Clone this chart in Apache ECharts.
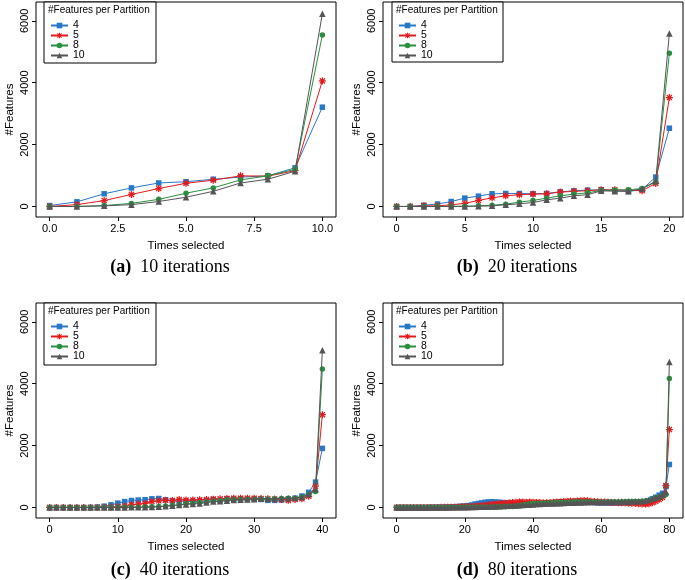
<!DOCTYPE html>
<html>
<head>
<meta charset="utf-8">
<script src="https://cdn.jsdelivr.net/npm/echarts@6/dist/echarts.min.js"></script>
<style>html,body{margin:0;padding:0;background:#fff}#c{width:685px;height:580px}</style>
</head>
<body>
<div id="c"></div>
<script>
// ---- data ----
const seriesNames = ['4', '5', '8', '10'];
const yTicks = [0, 2000, 4000, 6000];
const xTicksA = [0, 2.5, 5, 7.5, 10];
const xTicksB = [0, 5, 10, 15, 20];
const xTicksC = [0, 10, 20, 30, 40];
const xTicksD = [0, 20, 40, 60, 80];
const captionLetters = ['(a)', '(b)', '(c)', '(d)'];
const captionTexts = ['10 iterations', '20 iterations', '40 iterations', '80 iterations'];

const a4  = [30, 150, 410, 600, 760, 800, 880, 950, 990, 1250, 3210];
const a5  = [0, 60, 190, 390, 580, 750, 850, 990, 980, 1160, 4060];
const a8  = [0, 0, 30, 100, 230, 430, 600, 860, 990, 1200, 5540];
const a10 = [0, 0, 20, 60, 160, 300, 490, 760, 880, 1140, 6230];

const b4  = [0,0,40,80,160,270,335,410,420,420,410,420,475,505,530,540,505,485,550,950,2530];
const b5  = [0,0,20,20,55,100,195,280,345,380,400,410,465,490,510,540,540,520,510,745,3520];
const b8  = [0,0,0,0,5,10,20,40,75,140,195,270,345,400,440,520,530,540,580,790,4950];
const b10 = [0,0,0,0,0,0,10,20,55,85,130,215,270,345,380,505,495,495,570,820,5590];

const c4  = [0,0,0,0,0,0,5,15,40,85,140,190,225,240,250,280,290,250,215,205,200,190,200,220,260,240,280,270,280,270,270,260,230,230,240,280,300,370,490,820,1910];
const c5  = [0,0,0,0,0,0,0,0,5,10,20,40,85,110,130,190,215,235,225,260,240,240,250,260,270,280,290,300,300,300,300,290,280,270,260,230,260,280,360,690,3000];
const c8  = [0,0,0,0,0,0,0,0,0,0,0,5,10,10,15,20,30,45,65,85,120,140,160,180,200,220,240,250,260,260,260,270,270,280,290,300,300,330,420,520,4480];
const c10 = [0,0,0,0,0,0,0,0,0,0,0,0,5,5,10,15,25,40,60,80,100,110,130,160,190,200,220,240,250,260,270,280,280,290,300,300,310,340,430,590,5080];

const d4 = [0,0,0,0,0,0,0,0,0,0, 5,5,5,10,10,15, 20,25,30,40,45,
  60,80,110,130,150,170,180,185, 175,170,160,150,145,130,125,120,115,110,110,
  115,110,115,120,130,140,150,170,180, 175,170,180,190,200,195,185,180,170,
  160,150,145,150,145,140,150,145,150,155,150, 160,170,175,180,190,220,280,330,400,460,680,1390];
const d5 = [0,0,0,0,0,0,0,0,0,0,0,0,0, 5,5,5,10,10,15,20,
  25,30,35,40,50,60,70,85,100,110,120,130,140,150,160,170,180,
  175,170,175,170,165,160,150,150,160,170,180,175,
  190,200,210,200,210,220,225,215,200,190,185,180,
  175,170,165,160,155,150,150,145,140,130,120,110,
  110,120,150,200,260,320,710,2520];
const d8 = [0,0,0,0,0,0,0,0,0,0,0,0,0,0,0,0,0,0,0,0,
  5,5,5,5,5,10,10,10,15,15,20,20,25,30,35,
  40,60,80,100,115,125,
  130,135,140,140,145,150,155,160,160,165,170,175,175,180,180,180,
  175,175,170,170,170,175,175,180,180,185,185,190,190,195,195,200,
  210,230,260,300,340,380,420,4170];
const d10 = [0,0,0,0,0,0,0,0,0,0,0,0,0,0,0,0,
  5,5,5,10,10,10,15,15,20,20,25,30,30,35,40,
  50,55,60,65,70,75,80,85,90,100,
  110,115,120,125,130,130,135,140,145,150,150,155,160,165,170,170,175,175,180,180,
  180,185,185,185,190,190,190,195,195,200,200,200,
  220,250,280,320,360,420,500,4700];

// ---- styling ----
const colors = ['#2878c8', '#e31a1c', '#2a9040', '#555555'];
const asterisk = 'path://M4.1,0h1.8v10h-1.8z M0,4.1h10v1.8h-10z M0.7,1.97 L1.97,0.7 L9.3,8.03 L8.03,9.3z M8.03,0.7 L9.3,1.97 L1.97,9.3 L0.7,8.03z';
const symbols = ['rect', asterisk, 'circle', 'triangle'];
const symSizes = [5.5, 7, 5.5, 6.5];
const SANS = 'Liberation Sans';
const SERIF = 'Liberation Serif';

const panels = [
  {left: 36,  top: 2,   xmin: -0.5, xmax: 10.5, ticks: xTicksA, fmt: v => v.toFixed(1), data: [a4, a5, a8, a10], box: [44, 2, 112, 61], cap: [170, 267]},
  {left: 383, top: 2,   xmin: -1,   xmax: 21,   ticks: xTicksB, fmt: v => String(v),   data: [b4, b5, b8, b10], box: [392, 2, 111, 60], cap: [517, 267]},
  {left: 36,  top: 303, xmin: -2,   xmax: 42,   ticks: xTicksC, fmt: v => String(v),   data: [c4, c5, c8, c10], box: [44, 303, 112, 62], cap: [170, 570]},
  {left: 383, top: 303, xmin: -4,   xmax: 84,   ticks: xTicksD, fmt: v => String(v),   data: [d4, d5, d8, d10], box: [392, 303, 111, 62], cap: [517, 570]}
];

const grid = [], xAxis = [], yAxis = [], series = [], legend = [], graphic = [];
panels.forEach((p, gi) => {
  grid.push({left: p.left, top: p.top, width: 300, height: 215, show: true, borderColor: '#000', borderWidth: 1, backgroundColor: 'transparent'});
  xAxis.push({
    type: 'value', gridIndex: gi, min: p.xmin, max: p.xmax, position: 'bottom',
    axisLine: {show: false, onZero: false},
    axisTick: {show: true, length: 4, lineStyle: {color: '#000'}, customValues: p.ticks},
    axisLabel: {customValues: p.ticks, formatter: p.fmt, color: '#000', fontFamily: SANS, fontSize: 11, margin: 6},
    splitLine: {show: false},
    name: 'Times selected', nameLocation: 'middle', nameGap: 23,
    nameTextStyle: {color: '#000', fontFamily: SANS, fontSize: 11.5}
  });
  yAxis.push({
    type: 'value', gridIndex: gi, min: -340, max: 6610, position: 'left',
    axisLine: {show: false, onZero: false},
    axisTick: {show: true, length: 4, lineStyle: {color: '#000'}, customValues: yTicks},
    axisLabel: {customValues: yTicks, formatter: v => String(v), rotate: 90, color: '#000', fontFamily: SANS, fontSize: 11, margin: 6},
    splitLine: {show: false},
    name: '#Features', nameLocation: 'middle', nameGap: 20,
    nameTextStyle: {color: '#000', fontFamily: SANS, fontSize: 11.5}
  });
  p.data.forEach((arr, k) => {
    series.push({
      type: 'line', name: seriesNames[k], xAxisIndex: gi, yAxisIndex: gi,
      data: arr.map((v, i) => [i, v]),
      symbol: symbols[k], symbolSize: symSizes[k], showSymbol: true, showAllSymbol: true,
      itemStyle: {color: colors[k]}, lineStyle: {width: 1, color: colors[k]},
      animation: false, z: 2 + k
    });
  });
  const b = p.box;
  graphic.push({type: 'rect', z: 20, shape: {x: b[0], y: b[1], width: b[2], height: b[3]}, style: {fill: '#fff', stroke: '#000', lineWidth: 1}});
  graphic.push({type: 'text', z: 21, style: {text: '#Features per Partition', x: b[0] + 4, y: b[1] + 8, fill: '#000', font: '10px "Liberation Sans"', verticalAlign: 'middle', textVerticalAlign: 'middle'}});
  graphic.push({type: 'text', z: 21, style: {
    text: '{b|' + captionLetters[gi] + '}  {r|' + captionTexts[gi] + '}',
    x: p.cap[0], y: p.cap[1], align: 'center', verticalAlign: 'middle', textAlign: 'center', textVerticalAlign: 'middle',
    font: '18px "Liberation Serif"',
    rich: {b: {fontFamily: SERIF, fontWeight: 'bold', fontSize: 18, fill: '#000', color: '#000'}, r: {fontFamily: SERIF, fontSize: 18, fill: '#000', color: '#000'}}
  }});
  legend.push({
    data: seriesNames, left: b[0] + 6, top: b[1] + 18, orient: 'vertical',
    itemWidth: 17, itemHeight: 7, itemGap: -1, padding: 0, selectedMode: false, z: 30, zlevel: 0,
    textStyle: {fontFamily: SANS, fontSize: 10.5, lineHeight: 10, height: 10, color: '#000'}
  });
});

const chart = echarts.init(document.getElementById('c'), null, {renderer: 'canvas'});
chart.setOption({animation: false, backgroundColor: '#fff', grid, xAxis, yAxis, series, legend, graphic});
</script>
</body>
</html>
